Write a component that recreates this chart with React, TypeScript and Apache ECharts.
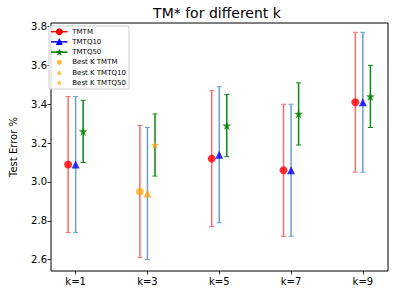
import React, { useEffect, useRef } from "react";
import * as echarts from "echarts";

const ks = [1, 3, 5, 7, 9];
const kLabels = ["k=1", "k=3", "k=5", "k=7", "k=9"];
const yTicks = [2.6, 2.8, 3.0, 3.2, 3.4, 3.6, 3.8];

const tmtmMean = [3.09, 2.95, 3.12, 3.06, 3.41];
const tmtmLow = [2.74, 2.61, 2.77, 2.72, 3.05];
const tmtmHigh = [3.44, 3.29, 3.47, 3.40, 3.77];

const q10Mean = [3.09, 2.94, 3.14, 3.06, 3.41];
const q10Low = [2.74, 2.60, 2.79, 2.72, 3.05];
const q10High = [3.44, 3.28, 3.49, 3.40, 3.77];

const q50Mean = [3.26, 3.19, 3.29, 3.35, 3.44];
const q50Low = [3.10, 3.03, 3.13, 3.19, 3.28];
const q50High = [3.42, 3.35, 3.45, 3.51, 3.60];

const bestK = [3];

const offsets = [-0.21, 0, 0.21];

function starPoints(cx: number, cy: number, r: number): number[][] {
  const pts: number[][] = [];
  for (let i = 0; i < 10; i++) {
    const rr = i % 2 === 0 ? r : r * 0.4;
    const a = -Math.PI / 2 + (i * Math.PI) / 5;
    pts.push([cx + rr * Math.cos(a), cy + rr * Math.sin(a)]);
  }
  return pts;
}

const starPath =
  "path://" +
  starPoints(10, 10, 10)
    .map((p, i) => (i === 0 ? "M" : "L") + p[0].toFixed(2) + " " + p[1].toFixed(2))
    .join(" ") +
  " Z";

const FONT = "DejaVu Sans";

export default function App() {
  const ref = useRef<HTMLDivElement>(null);
  useEffect(() => {
    if (!ref.current) return;
    const chart = echarts.init(ref.current, null, { renderer: "svg" });

    const errSeries = (name: string, off: number, lo: number[], hi: number[], color: string) => ({
      type: "custom",
      name,
      data: ks.map((k, i) => [k + off, lo[i], hi[i]]),
      encode: { x: 0, y: [1, 2] },
      z: 1,
      renderItem: (params: any, api: any) => {
        const x = api.value(0);
        const p1 = api.coord([x, api.value(1)]);
        const p2 = api.coord([x, api.value(2)]);
        const cw = 2.5;
        const st = { stroke: color, lineWidth: 1.5 };
        return {
          type: "group",
          children: [
            { type: "line", shape: { x1: p1[0], y1: p1[1], x2: p2[0], y2: p2[1] }, style: st },
            { type: "line", shape: { x1: p1[0] - cw, y1: p1[1], x2: p1[0] + cw, y2: p1[1] }, style: { stroke: color, lineWidth: 1 } },
            { type: "line", shape: { x1: p2[0] - cw, y1: p2[1], x2: p2[0] + cw, y2: p2[1] }, style: { stroke: color, lineWidth: 1 } },
          ],
        };
      },
    });

    const ptSeries = (
      name: string,
      off: number,
      mean: number[],
      symbol: string,
      size: number,
      color: string,
      best: boolean
    ) => ({
      type: "scatter",
      name,
      symbol,
      symbolSize: size,
      z: 3,
      itemStyle: best ? { color: "#ffa500", opacity: 0.72 } : { color },
      data: ks
        .map((k, i) => ({ k, i }))
        .filter(({ k }) => (best ? bestK.includes(k) : !bestK.includes(k)))
        .map(({ k, i }) => [k + off, mean[i]]),
    });

    const legendRows = [
      { label: "TMTM", kind: "circle", color: "#ff0000", line: true },
      { label: "TMTQ10", kind: "triangle", color: "#0000ff", line: true },
      { label: "TMTQ50", kind: "star", color: "#008000", line: true },
      { label: "Best K TMTM", kind: "circle", color: "#ffa500", line: false },
      { label: "Best K TMTQ10", kind: "triangle", color: "#ffa500", line: false },
      { label: "Best K TMTQ50", kind: "star", color: "#ffa500", line: false },
    ];
    const legendEls: any[] = [
      {
        type: "rect",
        shape: { x: 49, y: 26, width: 80, height: 63, r: 2 },
        style: { fill: "rgba(255,255,255,0.85)", stroke: "#cccccc", lineWidth: 1 },
        z: 10,
      },
    ];
    legendRows.forEach((r, i) => {
      const cy = 31.7 + i * 10.2;
      const cx = 59.3;
      const op = r.line ? 1 : 0.72;
      const ms = r.line ? 3.5 : 2.6;
      if (r.line) {
        legendEls.push({
          type: "line",
          shape: { x1: 51, y1: cy, x2: 67.5, y2: cy },
          style: { stroke: r.color, lineWidth: 1.5 },
          z: 11,
        });
      }
      if (r.kind === "circle") {
        legendEls.push({ type: "circle", shape: { cx, cy, r: ms }, style: { fill: r.color, opacity: op }, z: 12 });
      } else if (r.kind === "triangle") {
        legendEls.push({
          type: "polygon",
          shape: { points: [[cx, cy - ms * 1.1], [cx + ms, cy + ms * 0.9], [cx - ms, cy + ms * 0.9]] },
          style: { fill: r.color, opacity: op },
          z: 12,
        });
      } else {
        legendEls.push({
          type: "polygon",
          shape: { points: starPoints(cx, cy + 0.3, ms * 1.15) },
          style: { fill: r.color, opacity: op },
          z: 12,
        });
      }
      legendEls.push({
        type: "text",
        x: 72.3,
        y: cy,
        style: { text: r.label, fontFamily: FONT, fontSize: 7, fill: "#000", verticalAlign: "middle", align: "left" },
        z: 12,
      });
    });

    chart.setOption({
      animation: false,
      backgroundColor: "#ffffff",
      grid: {
        left: 46,
        right: 10,
        top: 23,
        bottom: 25,
        show: true,
        borderColor: "#000",
        borderWidth: 1,
        backgroundColor: "transparent",
      },
      xAxis: {
        type: "value",
        min: 0.314,
        max: 9.7,
        splitLine: { show: false },
        axisLine: { show: false },
        axisTick: { show: true, inside: false, length: 3.5, customValues: ks, lineStyle: { color: "#000", width: 0.8 } },
        axisLabel: {
          customValues: ks,
          formatter: (v: number) => kLabels[ks.indexOf(Math.round(v))] ?? "",
          fontFamily: FONT,
          fontSize: 10,
          color: "#000",
          margin: 5,
        },
      },
      yAxis: {
        type: "value",
        min: 2.5415,
        max: 3.818,
        name: "Test Error %",
        nameLocation: "middle",
        nameGap: 33,
        nameTextStyle: { fontFamily: FONT, fontSize: 10, color: "#000" },
        splitLine: { show: false },
        axisLine: { show: false },
        axisTick: { show: true, inside: false, length: 3.5, customValues: yTicks, lineStyle: { color: "#000", width: 0.8 } },
        axisLabel: {
          customValues: yTicks,
          formatter: (v: number) => v.toFixed(1),
          fontFamily: FONT,
          fontSize: 10,
          color: "#000",
          margin: 4,
        },
      },
      graphic: [
        {
          type: "text",
          x: 217,
          y: 12.5,
          style: {
            text: "TM* for different k",
            fontFamily: FONT,
            fontSize: 14,
            fill: "#000",
            align: "center",
            verticalAlign: "middle",
          },
        },
        ...legendEls,
      ],
      series: [
        errSeries("TMTM err", offsets[0], tmtmLow, tmtmHigh, "#ff6a6a"),
        errSeries("TMTQ10 err", offsets[1], q10Low, q10High, "#6b9fd0"),
        errSeries("TMTQ50 err", offsets[2], q50Low, q50High, "#118811"),
        ptSeries("TMTM", offsets[0], tmtmMean, "circle", 8, "#ff0000", false),
        ptSeries("TMTQ10", offsets[1], q10Mean, "triangle", 8, "#0000ff", false),
        ptSeries("TMTQ50", offsets[2], q50Mean, starPath, 9, "#008000", false),
        ptSeries("Best K TMTM", offsets[0], tmtmMean, "circle", 8, "#ffa500", true),
        ptSeries("Best K TMTQ10", offsets[1], q10Mean, "triangle", 8, "#ffa500", true),
        ptSeries("Best K TMTQ50", offsets[2], q50Mean, starPath, 8, "#ffa500", true),
      ],
    });
    return () => chart.dispose();
  }, []);
  return <div ref={ref} style={{ width: 398, height: 296, position: "absolute", left: 0, top: 0 }} />;
}
